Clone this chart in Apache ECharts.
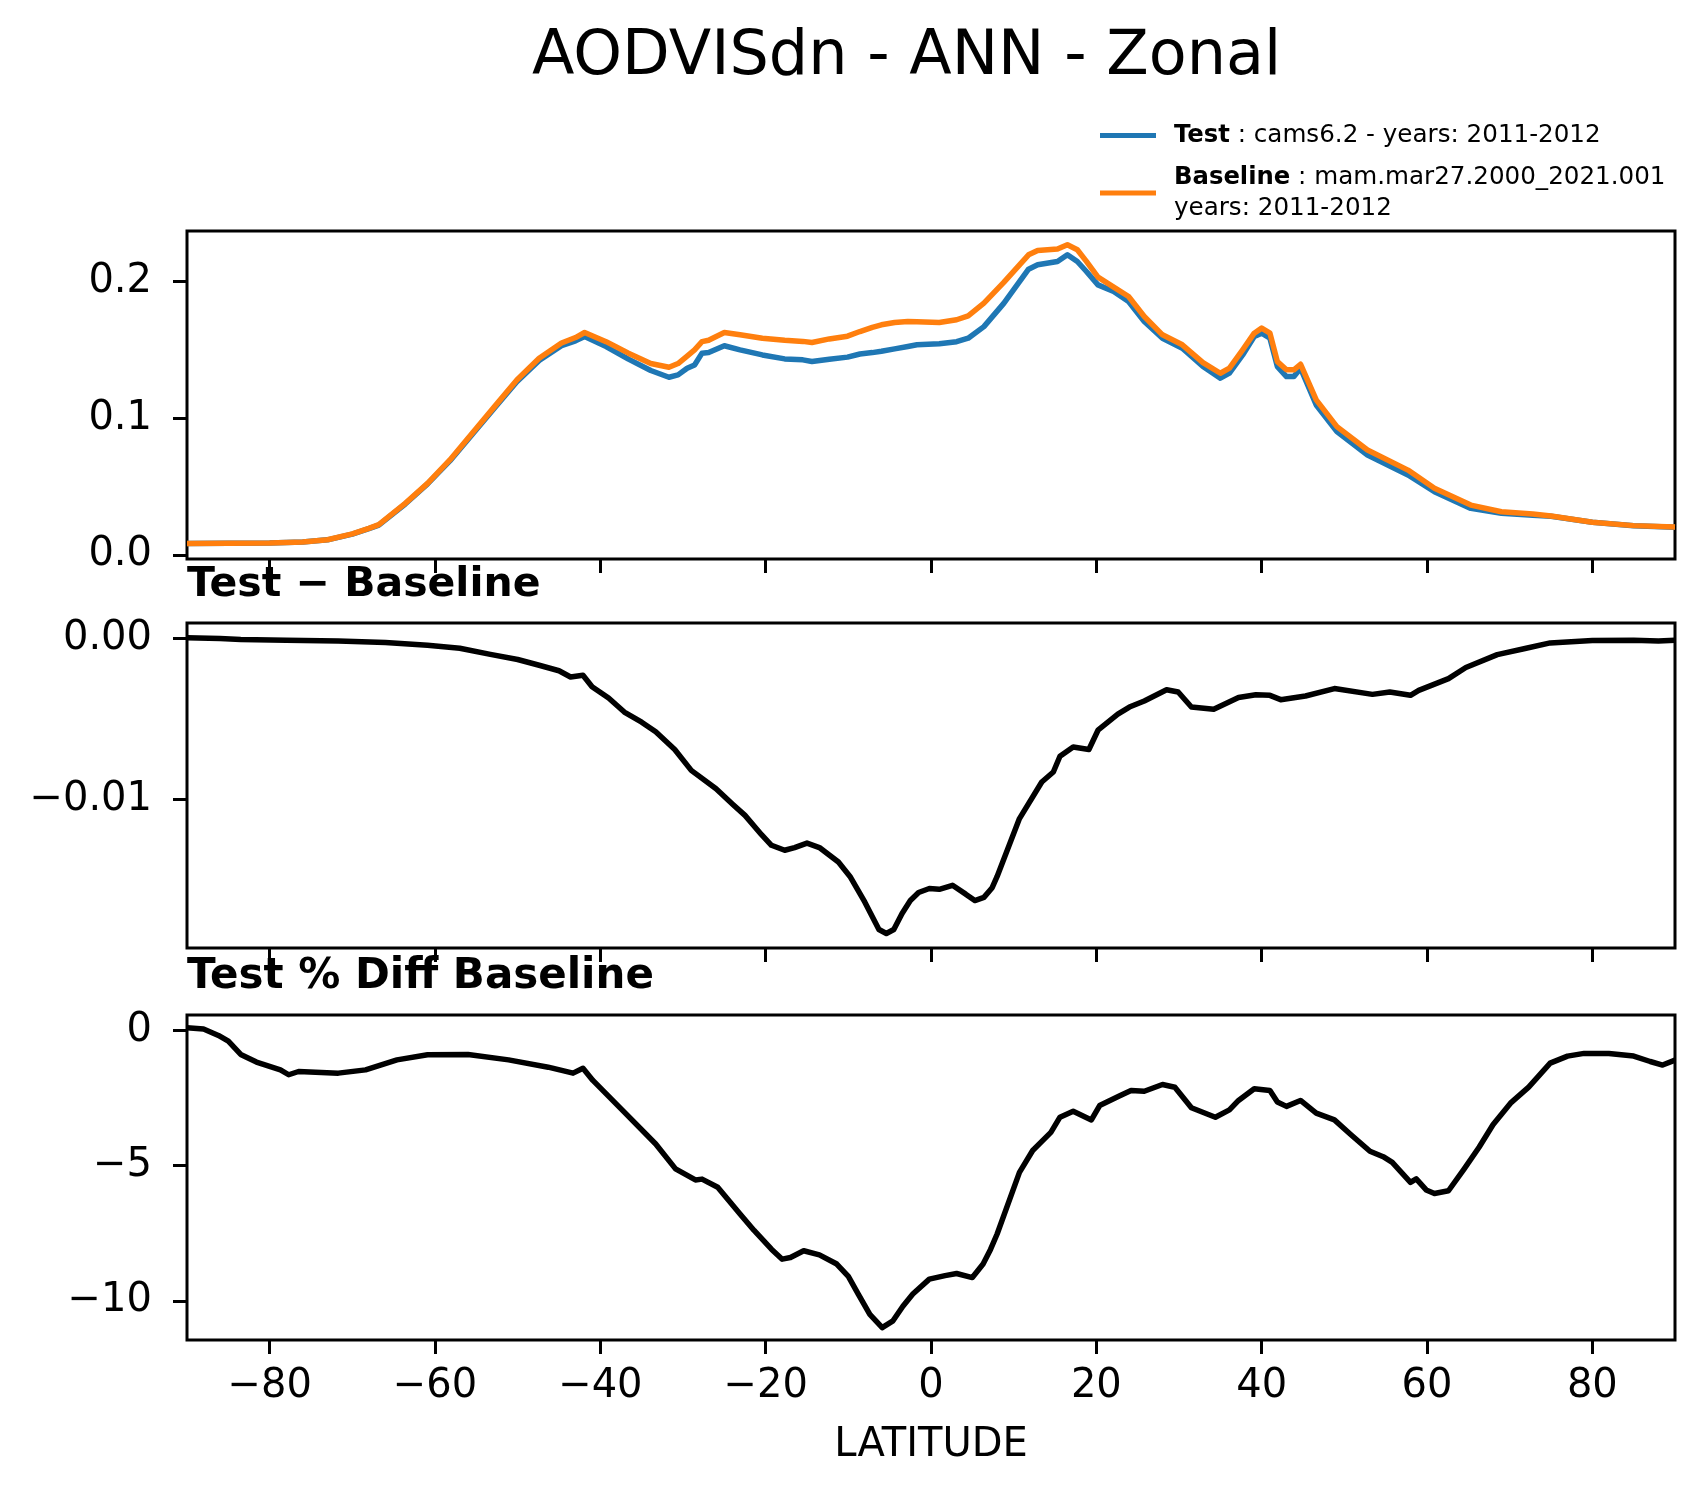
<!DOCTYPE html>
<html>
<head>
<meta charset="utf-8">
<script src="https://cdn.jsdelivr.net/npm/echarts@6/dist/echarts.min.js"></script>
<style>
html,body{margin:0;padding:0;background:#fff;}
#chart{width:1704px;height:1496px;}
</style>
</head>
<body>
<div id="chart"></div>
<script>
// ---------------- data ----------------
const latTop = [-90,-85,-80,-76,-73,-70,-68,-66.8,-63.6,-60.9,-58.2,-55.5,-52.8,-50.1,-47.4,-44.7,-43.0,-41.9,-39.3,-36.6,-33.9,-31.7,-30.6,-29.5,-28.6,-27.7,-26.9,-25.0,-23.1,-20.4,-17.7,-15.5,-14.4,-12.3,-10.1,-8.6,-7.1,-6.0,-4.4,-2.8,-1.7,1.0,3.1,4.5,6.4,8.8,11.8,12.9,15.3,16.5,17.7,18.8,20.2,22.1,23.9,25.8,28.0,30.4,32.9,35.0,36.1,37.7,39.1,40.0,41.0,41.9,43.0,43.9,44.7,46.6,49.1,52.8,57.7,60.9,65.3,69.0,72.8,75,80,85,90];
const testVals = [.0085,.0087,.0088,.0095,.0111,.0153,.0193,.0219,.0373,.0520,.0688,.0882,.1075,.1267,.1423,.1530,.1566,.1597,.1524,.1432,.1349,.1300,.1317,.1366,.1390,.1476,.1480,.1530,.1500,.1463,.1434,.1427,.1415,.1432,.1447,.1470,.1480,.1490,.1507,.1525,.1537,.1544,.1560,.1585,.1670,.1840,.2090,.2122,.2146,.2195,.2146,.2073,.1975,.1927,.1853,.1707,.1585,.1512,.1378,.1293,.1330,.1463,.1597,.1622,.1585,.1378,.1305,.1305,.1366,.1097,.0902,.0731,.0585,.0463,.0341,.0305,.0290,.0283,.0239,.0214,.0204];
const baseVals = [.0085,.0087,.0088,.0095,.0112,.0155,.0195,.0222,.0378,.0524,.0695,.0890,.1085,.1280,.1439,.1550,.1590,.1627,.1560,.1476,.1400,.1373,.1400,.1455,.1500,.1560,.1570,.1627,.1610,.1585,.1570,.1562,.1554,.1580,.1600,.1634,.1665,.1683,.1700,.1707,.1706,.1700,.1720,.1749,.1842,.1993,.2195,.2227,.2237,.2269,.2232,.2147,.2032,.1959,.1890,.1744,.1610,.1537,.1407,.1329,.1366,.1500,.1622,.1659,.1622,.1414,.1354,.1354,.1395,.1134,.0939,.0768,.0621,.0488,.0365,.0316,.0300,.0285,.0240,.0215,.0205];

const latDiff = [-90,-86,-83.5,-78,-71.7,-66,-60.9,-57,-53.3,-50,-47.4,-45,-43.6,-42.1,-41.0,-39,-37.1,-35,-33.3,-31,-29.0,-26.0,-24,-22.5,-20.5,-19.3,-17.7,-16.5,-15.0,-13.5,-11.2,-9.8,-8.0,-6.3,-5.4,-4.5,-3.5,-2.5,-1.5,-0.2,1.0,2.6,4.2,5.3,6.4,7.4,8.0,10.7,13.4,14.8,15.6,17.2,19.1,20.2,22.6,24.0,25.8,28.5,29.9,31.5,34.2,37.2,39.3,41.0,42.3,45.3,48.8,53.4,55.5,58.0,59.0,62.6,64.7,68.5,72,74.9,80,85,88,90];
const diffVals = [0.00006,0.0,-0.00006,-0.0001,-0.00015,-0.00025,-0.00042,-0.0006,-0.00098,-0.0013,-0.00166,-0.002,-0.00239,-0.00228,-0.0030,-0.0037,-0.00457,-0.0052,-0.0058,-0.0069,-0.0082,-0.00934,-0.0103,-0.0110,-0.0122,-0.01286,-0.01317,-0.0130,-0.01272,-0.0130,-0.0139,-0.0148,-0.0164,-0.0181,-0.01835,-0.0181,-0.0171,-0.0163,-0.0158,-0.01555,-0.0156,-0.01535,-0.0159,-0.0163,-0.0161,-0.0155,-0.0148,-0.0112,-0.00892,-0.0083,-0.00732,-0.00674,-0.0069,-0.0057,-0.0047,-0.00426,-0.00388,-0.00318,-0.00332,-0.00426,-0.0044,-0.00367,-0.00349,-0.00353,-0.0038,-0.00357,-0.00311,-0.00347,-0.00332,-0.00353,-0.00322,-0.00249,-0.0018,-0.0010,-0.0006,-0.00027,-0.00012,-0.0001,-0.00015,-0.0001];

const latPct = [-90,-88,-86.2,-85,-83.5,-81.6,-78.7,-77.7,-76.5,-71.7,-68.4,-64.6,-60.9,-56.0,-51.1,-46.3,-43.3,-42.1,-40.9,-37.1,-33.3,-30.9,-28.5,-27.7,-25.8,-23.1,-21.4,-19.3,-18.0,-17,-15.4,-13.5,-11.4,-10,-8.8,-7.4,-5.9,-4.6,-3.4,-2.2,-0.2,1.7,3.1,5.0,6.3,7.2,8.0,10.7,12.3,14.5,15.6,17.2,19.4,20.4,22.9,24.2,25.8,28.0,29.5,31.5,34.4,36.1,37.2,39.1,41.0,41.9,43.0,44.7,46.6,48.8,50.7,53.1,54.7,55.8,58.0,58.7,59.9,60.9,62.6,64.5,66.3,68.0,70.1,72.3,74.9,77,79,82,85,87,88.5,90];
const pctVals = [0.1,0.05,-0.185,-0.4,-0.89,-1.17,-1.46,-1.64,-1.52,-1.58,-1.46,-1.09,-0.9,-0.89,-1.09,-1.36,-1.58,-1.40,-1.85,-3.02,-4.2,-5.12,-5.53,-5.5,-5.8,-6.79,-7.4,-8.09,-8.46,-8.4,-8.15,-8.3,-8.64,-9.1,-9.75,-10.5,-10.99,-10.74,-10.2,-9.75,-9.2,-9.07,-8.99,-9.14,-8.64,-8.1,-7.53,-5.25,-4.44,-3.77,-3.21,-2.99,-3.31,-2.78,-2.41,-2.22,-2.25,-2.0,-2.1,-2.86,-3.21,-2.94,-2.59,-2.16,-2.22,-2.65,-2.81,-2.59,-3.06,-3.31,-3.83,-4.47,-4.67,-4.88,-5.62,-5.49,-5.9,-6.03,-5.93,-5.12,-4.32,-3.48,-2.69,-2.1,-1.21,-0.95,-0.85,-0.85,-0.95,-1.15,-1.28,-1.1];

const latTicks = [-80,-60,-40,-20,0,20,40,60,80];
const topTicks = [0, 0.1, 0.2];
const diffTicks = [-0.01, 0];
const pctTicks = [-10, -5, 0];

const titleText = 'AODVISdn - ANN - Zonal';
const sub1 = 'Test \u2212 Baseline';
const sub2 = 'Test % Diff Baseline';
const legTest = 'Test';
const legTestDesc = ' : cams6.2 - years: 2011-2012';
const legBase = 'Baseline';
const legBaseDesc = ' : mam.mar27.2000_2021.001\nyears: 2011-2012';
const xName = 'LATITUDE';

// ---------------- chart ----------------
const FONT = 'DejaVu Sans';
const pair = (xs, ys) => xs.map((x, i) => [x, ys[i]]);
const minus = s => String(s).replace('-', '\u2212');

const L = 187, W = 1488;
const grids = [
  {left: L, top: 231, width: W, height: 328},
  {left: L, top: 623, width: W, height: 325},
  {left: L, top: 1015, width: W, height: 325}
].map(g => Object.assign(g, {show: true, borderColor: '#000', borderWidth: 3, backgroundColor: 'transparent', containLabel: false}));

function xAx(i, labels) {
  return {
    type: 'value', gridIndex: i, min: -90, max: 90,
    axisLine: {show: false, onZero: false},
    axisTick: {show: true, inside: false, length: 14, lineStyle: {color: '#000', width: 3}, customValues: latTicks},
    axisLabel: {show: labels, customValues: latTicks, fontFamily: FONT, fontSize: 40, color: '#000', margin: 27, lineHeight: 40,
      formatter: v => minus(v)},
    splitLine: {show: false},
    name: labels ? xName : '', nameLocation: 'middle', nameGap: 86,
    nameTextStyle: {fontFamily: FONT, fontSize: 40, color: '#000', lineHeight: 40}
  };
}
function yAx(i, min, max, ticks, fmt) {
  return {
    type: 'value', gridIndex: i, min: min, max: max,
    axisLine: {show: false, onZero: false},
    axisTick: {show: true, inside: false, length: 14, lineStyle: {color: '#000', width: 3}, customValues: ticks},
    axisLabel: {show: true, customValues: ticks, fontFamily: FONT, fontSize: 40, color: '#000', margin: 35, lineHeight: 40,
      formatter: v => minus(fmt(v))},
    splitLine: {show: false}
  };
}

const chart = echarts.init(document.getElementById('chart'), null, {renderer: 'canvas', width: 1704, height: 1496});
chart.setOption({
  backgroundColor: '#fff',
  animation: false,
  textStyle: {fontFamily: FONT},
  title: [
    {text: titleText, left: 532, top: 27, padding: 0, textStyle: {fontFamily: FONT, fontSize: 62, fontWeight: 'normal', color: '#000', lineHeight: 62}},
    {text: sub1, left: 187, top: 565, padding: 0, textStyle: {fontFamily: FONT, fontSize: 41, fontWeight: 'bold', color: '#000', lineHeight: 41}},
    {text: sub2, left: 187, top: 956, padding: 0, textStyle: {fontFamily: FONT, fontSize: 42, fontWeight: 'bold', color: '#000', lineHeight: 42}}
  ],
  legend: {
    orient: 'vertical', left: 1100, top: 120, padding: 0, itemGap: 11,
    itemWidth: 56, itemHeight: 5, icon: 'rect',
    data: ['test', 'base'],
    formatter: name => name === 'test' ? '{b|' + legTest + '}' + legTestDesc : '{b|' + legBase + '}' + legBaseDesc,
    textStyle: {fontFamily: FONT, fontSize: 24.6, color: '#000', lineHeight: 31, padding: [0, 0, 0, 13],
      rich: {b: {fontFamily: FONT, fontSize: 24.3, fontWeight: 'bold', color: '#000', lineHeight: 31}}}
  },
  grid: grids,
  xAxis: [xAx(0, false), xAx(1, false), xAx(2, true)],
  yAxis: [
    yAx(0, -0.0029, 0.2369, topTicks, v => v.toFixed(1)),
    yAx(1, -0.01925, 0.00097, diffTicks, v => v.toFixed(2)),
    yAx(2, -11.45, 0.57, pctTicks, v => v.toFixed(0))
  ],
  series: [
    {name: 'test', type: 'line', xAxisIndex: 0, yAxisIndex: 0, data: pair(latTop, testVals), showSymbol: false, symbol: 'none',
      lineStyle: {color: '#1f77b4', width: 5.5, join: 'round'}, itemStyle: {color: '#1f77b4'}, z: 2},
    {name: 'base', type: 'line', xAxisIndex: 0, yAxisIndex: 0, data: pair(latTop, baseVals), showSymbol: false, symbol: 'none',
      lineStyle: {color: '#ff7f0e', width: 5.5, join: 'round'}, itemStyle: {color: '#ff7f0e'}, z: 3},
    {name: 'diff', type: 'line', xAxisIndex: 1, yAxisIndex: 1, data: pair(latDiff, diffVals), showSymbol: false, symbol: 'none',
      lineStyle: {color: '#000', width: 5.5, join: 'round'}, itemStyle: {color: '#000'}},
    {name: 'pct', type: 'line', xAxisIndex: 2, yAxisIndex: 2, data: pair(latPct, pctVals), showSymbol: false, symbol: 'none',
      lineStyle: {color: '#000', width: 5.5, join: 'round'}, itemStyle: {color: '#000'}}
  ]
});
</script>
</body>
</html>
